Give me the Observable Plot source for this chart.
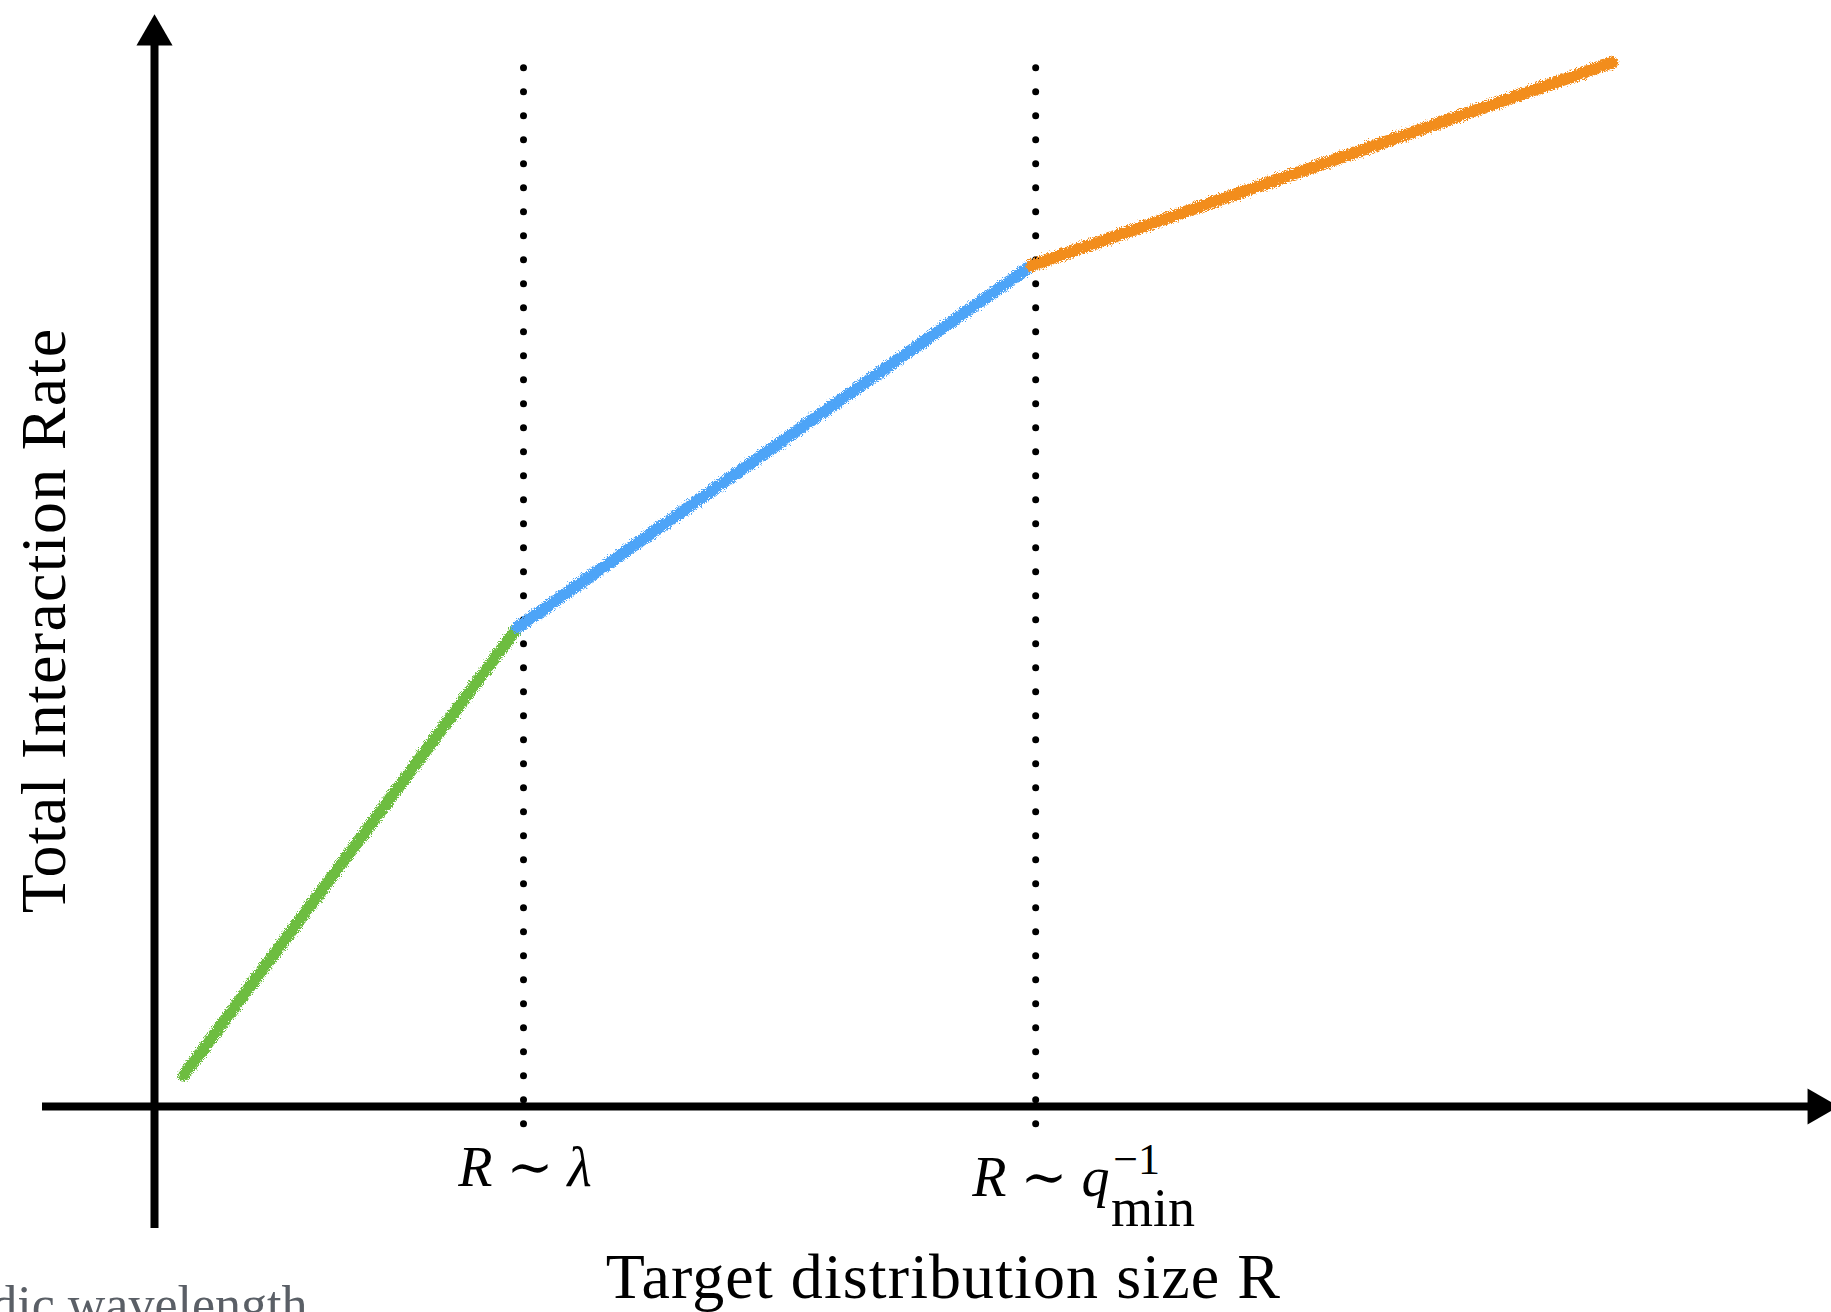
<!DOCTYPE html>
<html>
<head>
<meta charset="utf-8">
<script src="https://cdn.jsdelivr.net/npm/d3@7"></script>
<script src="https://cdn.jsdelivr.net/npm/@observablehq/plot@0.6"></script>
<style>
  html, body { margin: 0; padding: 0; background: #fff; overflow: hidden; }
  #chart svg { display: block; }
</style>
</head>
<body>
<div id="chart"></div>
<script>
// ---- data (arbitrary units: R in units of λ, rate in arbitrary units) ----
const regimes = ["R < λ", "λ < R < 1/q_min", "R > 1/q_min"];
const regimeColors = ["#6dbd3f", "#4da4f7", "#f28d1d"];
const curveR = [0.079, 0.984, 0.984, 2.377, 2.377, 3.951];
const curveRate = [0.31, 4.79, 4.79, 8.41, 8.41, 10.44];
const curveRegime = ["R < λ", "R < λ", "λ < R < 1/q_min", "λ < R < 1/q_min", "R > 1/q_min", "R > 1/q_min"];
const boundaryR = [1.0, 2.388];
const xAxisTitle = "Target distribution size R";
const yAxisTitle = "Total Interaction Rate";
const lambdaLabel = "R ∼ λ";
const qLabelMain = "R ∼ q";
const qLabelSup = "−1";
const qLabelSub = "min";
const cutCaption = "dic wavelength";

const curve = curveR.map((r, i) => ({R: r, rate: curveRate[i], regime: curveRegime[i]}));

const chart = Plot.plot({
  width: 1831,
  height: 1312,
  margin: 0,
  x: {type: "linear", domain: [0, 1], range: [154, 523], axis: null},
  y: {type: "linear", domain: [0, 10], range: [1106, 106], axis: null},
  color: {domain: regimes, range: regimeColors},
  style: {background: "#fff", fontFamily: "'Liberation Serif', 'DejaVu Serif', serif", color: "#000"},
  marks: [
    // dotted regime boundaries
    Plot.ruleX(boundaryR, {y1: -0.177, y2: 10.39, stroke: "#000", strokeWidth: 7,
      strokeDasharray: "0,24", strokeLinecap: "round"}),
    // axes
    Plot.ruleX([0], {y1: -1.22, y2: 10.61, stroke: "#000", strokeWidth: 8}),
    Plot.ruleY([0], {x1: -0.3035, x2: 4.49, stroke: "#000", strokeWidth: 8}),
    Plot.dot([0], {x: [0], y: [10.714], symbol: "triangle", r: 13.4, fill: "#000", stroke: "none"}),
    Plot.dot([0], {x: [4.508], y: [0], symbol: "triangle", r: 13.4, fill: "#000", stroke: "none", rotate: 90}),
    // the interaction-rate curve, one colour per regime
    Plot.line(curve, {x: "R", y: "rate", z: "regime", stroke: "regime", strokeWidth: 12,
      strokeLinecap: "round", strokeLinejoin: "round"}),
    // labels
    Plot.text([yAxisTitle], {x: [-0.2439], y: [4.86], text: d => d, rotate: -90, fontSize: 64,
      lineAnchor: "bottom", textAnchor: "middle", fill: "#000"}),
    Plot.text([xAxisTitle], {x: [2.138], y: [-1.91], text: d => d, fontSize: 64,
      lineAnchor: "bottom", textAnchor: "middle", fill: "#000"}),
    Plot.text([lambdaLabel], {x: [1.004], y: [-0.79], text: d => d, fontSize: 56, fontStyle: "italic",
      lineAnchor: "bottom", textAnchor: "middle", fill: "#000"}),
    Plot.text([qLabelMain], {x: [2.588], y: [-0.89], text: d => d, fontSize: 56, fontStyle: "italic",
      lineAnchor: "bottom", textAnchor: "end", fill: "#000"}),
    Plot.text([qLabelSup], {x: [2.598], y: [-0.67], text: d => d, fontSize: 44,
      lineAnchor: "bottom", textAnchor: "start", fill: "#000"}),
    Plot.text([qLabelSub], {x: [2.592], y: [-1.19], text: d => d, fontSize: 54,
      lineAnchor: "bottom", textAnchor: "start", fill: "#000"}),
    Plot.text([cutCaption], {x: [0.4146], y: [-2.15], text: d => d, fontSize: 52,
      lineAnchor: "bottom", textAnchor: "end", fill: "#5a5f66"})
  ]
});

// wider letter spacing for the two axis titles (the reference uses a wider serif face)
const textGroups = chart.querySelectorAll('g[aria-label="text"]');
if (textGroups[0]) textGroups[0].style.letterSpacing = "1.3px";
if (textGroups[1]) textGroups[1].style.letterSpacing = "1.1px";

// crayon-like texture for the curve
const ns = "http://www.w3.org/2000/svg";
const defs = document.createElementNS(ns, "defs");
defs.innerHTML = `
  <filter id="crayon" filterUnits="userSpaceOnUse" x="0" y="0" width="1831" height="1312">
    <feTurbulence type="fractalNoise" baseFrequency="1.1" numOctaves="2" seed="3" result="noise"/>
    <feDisplacementMap in="SourceGraphic" in2="noise" scale="8" xChannelSelector="R" yChannelSelector="G"/>
  </filter>`;
chart.insertBefore(defs, chart.firstChild);
chart.querySelectorAll('g[aria-label="line"]').forEach(g => g.setAttribute("filter", "url(#crayon)"));

document.getElementById("chart").appendChild(chart);
</script>
</body>
</html>
